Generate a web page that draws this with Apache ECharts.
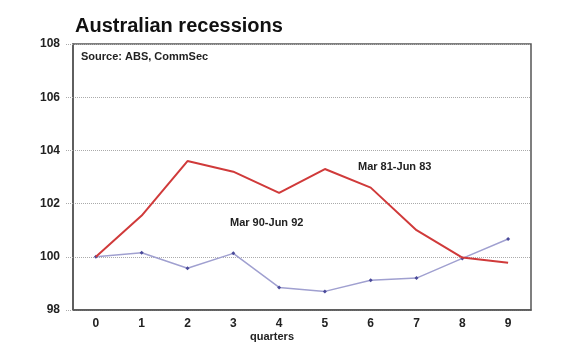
<!DOCTYPE html>
<html>
<head>
<meta charset="utf-8">
<script src="https://cdn.jsdelivr.net/npm/echarts@6/dist/echarts.min.js"></script>
<style>
  html, body { margin: 0; padding: 0; background: #fff; }
  #main { width: 580px; height: 352px; }
</style>
</head>
<body>
<div id="main"></div>
<script>
// quarters since start of recession
var quarters = ['0', '1', '2', '3', '4', '5', '6', '7', '8', '9'];
// Mar 81-Jun 83
var rec80s = [100, 101.55, 103.6, 103.2, 102.4, 103.3, 102.6, 101.0, 99.97, 99.78];
// Mar 90-Jun 92
var rec90s = [100, 100.15, 99.57, 100.13, 98.85, 98.7, 99.12, 99.2, 99.94, 100.67];

var myChart = echarts.init(document.getElementById('main'));

var font = 'Liberation Sans, Arial, sans-serif';

myChart.setOption({
  animation: false,
  backgroundColor: '#fff',
  title: {
    text: 'Australian recessions',
    left: 75,
    top: 16,
    padding: 0,
    textStyle: { fontFamily: font, fontSize: 20, fontWeight: 'bold', color: '#111' }
  },
  grid: { left: 73, right: 49, top: 44, bottom: 42, show: true, borderColor: '#555', borderWidth: 1.5 },
  xAxis: {
    type: 'category',
    data: quarters,
    boundaryGap: true,
    axisLine: { lineStyle: { color: '#555', width: 1.5 } },
    axisTick: { alignWithLabel: true, inside: true, length: 3, lineStyle: { color: '#999' } },
    axisLabel: { fontFamily: font, fontSize: 12, fontWeight: 'bold', color: '#222', margin: 8 },
    splitLine: { show: false }
  },
  yAxis: {
    type: 'value',
    min: 98,
    max: 108,
    interval: 2,
    axisLine: { show: true, lineStyle: { color: '#555', width: 1.5 } },
    axisTick: { show: true, length: 7, lineStyle: { color: '#aaa', type: 'dotted' } },
    axisLabel: { fontFamily: font, fontSize: 12, fontWeight: 'bold', color: '#222', margin: 13 },
    splitLine: { lineStyle: { color: '#aaa', type: 'dotted', width: 1 } }
  },
  graphic: [
    { type: 'text', left: 81, top: 51,
      style: { text: 'Source: ABS, CommSec', fontFamily: font, fontSize: 11, fontWeight: 'bold', fill: '#222' } },
    { type: 'text', left: 358, top: 161,
      style: { text: 'Mar 81-Jun 83', fontFamily: font, fontSize: 11, fontWeight: 'bold', fill: '#222' } },
    { type: 'text', left: 230, top: 217,
      style: { text: 'Mar 90-Jun 92', fontFamily: font, fontSize: 11, fontWeight: 'bold', fill: '#222' } },
    { type: 'text', left: 250, top: 331,
      style: { text: 'quarters', fontFamily: font, fontSize: 11, fontWeight: 'bold', fill: '#222' } }
  ],
  series: [
    {
      name: 'Mar 90-Jun 92',
      type: 'line',
      data: rec90s,
      symbol: 'diamond',
      symbolSize: 4,
      showAllSymbol: true,
      itemStyle: { color: '#4a4a9a' },
      lineStyle: { color: '#a0a0d0', width: 1.5 },
      z: 2
    },
    {
      name: 'Mar 81-Jun 83',
      type: 'line',
      data: rec80s,
      symbol: 'none',
      lineStyle: { color: '#d03a3a', width: 2 },
      z: 3
    }
  ]
});
</script>
</body>
</html>
